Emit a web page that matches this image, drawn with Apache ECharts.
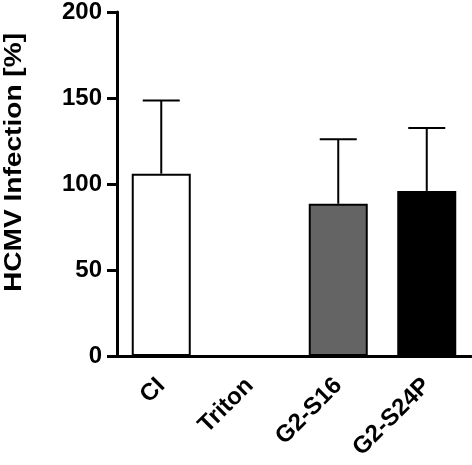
<!DOCTYPE html>
<html>
<head>
<meta charset="utf-8">
<script src="https://cdn.jsdelivr.net/npm/echarts@6/dist/echarts.min.js"></script>
<style>
    html, body { margin: 0; padding: 0; background: #fff; }
    #chart { width: 472px; height: 465px; }
</style>
</head>
<body>
<div id="chart"></div>
<script>
// 组别、均值与误差上限
const categories = ["CI", "Triton", "G2-S16", "G2-S24P"];
const means = [106, 0, 88.5, 96];
const upperErrors = [148.5, 0, 126, 132.5];
const barColors = ["#ffffff", "#ffffff", "#646464", "#000000"];
const yTicks = { min: 0, max: 200, interval: 50 };
const yTitle = "HCMV Infection [%]";

const FONT = "Liberation Sans";

const chart = echarts.init(document.getElementById("chart"));

// 误差线：竖线 + 顶部横帽
function renderErrorBar(params, api) {
    const idx = api.value(0);
    const top = api.coord([idx, api.value(2)]);
    const base = api.coord([idx, api.value(1)]);
    const half = 18.5;
    const style = { stroke: "#000", lineWidth: 2 };
    return {
        type: "group",
        children: [
            { type: "line", shape: { x1: top[0], y1: top[1], x2: base[0], y2: base[1] }, style },
            { type: "line", shape: { x1: top[0] - half, y1: top[1], x2: top[0] + half, y2: top[1] }, style }
        ]
    };
}

const errorData = categories
    .map((name, i) => [i, means[i], upperErrors[i]])
    .filter(d => d[2] > d[1]);

chart.setOption({
    animation: false,
    grid: { left: 117, right: 1, top: 10, bottom: 109 },
    xAxis: {
        type: "category",
        data: categories,
        axisLine: { lineStyle: { color: "#000", width: 3 } },
        axisTick: { alignWithLabel: true, length: 10, lineStyle: { color: "#000", width: 3 } },
        axisLabel: {
            rotate: 45,
            margin: 26,
            color: "#000",
            fontFamily: FONT,
            fontWeight: "bold",
            fontSize: 24
        }
    },
    yAxis: {
        type: "value",
        min: yTicks.min,
        max: yTicks.max,
        interval: yTicks.interval,
        splitLine: { show: false },
        axisLine: { show: true, lineStyle: { color: "#000", width: 3 } },
        axisTick: { show: true, length: 10, lineStyle: { color: "#000", width: 3 } },
        axisLabel: {
            margin: 15,
            color: "#000",
            fontFamily: FONT,
            fontWeight: "bold",
            fontSize: 24
        }
    },
    graphic: [{
        type: "text",
        left: 2,
        top: 33,
        rotation: Math.PI / 2,
        scaleX: 1.17,
        style: {
            text: yTitle,
            fill: "#000",
            font: "bold 24px '" + FONT + "'"
        }
    }],
    series: [
        {
            type: "bar",
            barWidth: 59,
            data: means.map((v, i) => ({
                value: v,
                itemStyle: { color: barColors[i], borderColor: "#000", borderWidth: v > 0 ? 2 : 0 }
            })),
            z: 2
        },
        {
            type: "custom",
            renderItem: renderErrorBar,
            data: errorData,
            encode: { x: 0, y: [1, 2] },
            z: 3
        }
    ]
});
</script>
</body>
</html>
